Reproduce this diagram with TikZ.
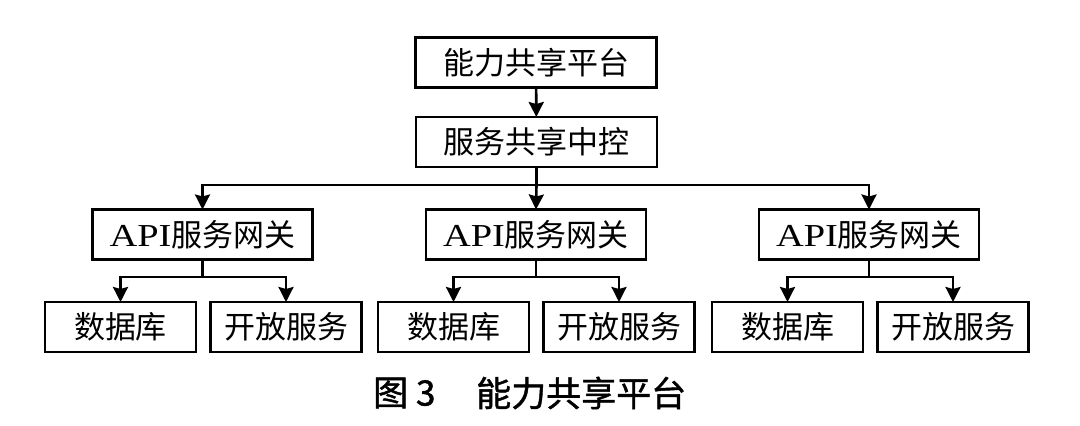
\documentclass[tikz,border=0pt]{standalone}
\usepackage{fontspec}
\setmainfont{Liberation Serif}
\newfontfamily\cjk{Noto Sans CJK SC}
\newfontfamily\cjkcap{Noto Sans CJK SC}[FakeBold=1.2]
\usetikzlibrary{arrows.meta}
\begin{document}
\begin{tikzpicture}[x=1pt,y=-1pt,
  box/.style={draw, line width=2.6pt, minimum height=50pt, inner sep=0pt, outer sep=0pt,
    font=\fontsize{31}{31}\selectfont\cjk},
  wbig/.style={minimum width=241pt},
  wapi/.style={minimum width=220pt},
  wsm/.style={minimum width=151pt},
  conn/.style={line width=2.6pt},
  arr/.style={line width=2.6pt, -{Stealth[length=15pt,width=15pt,inset=2pt]}},
  captext/.style={inner sep=0pt, anchor=west, font=\fontsize{35}{35}\selectfont\cjkcap}
]
\useasboundingbox (0,0) rectangle (1080,426);
\fill[white] (0,0) rectangle (1080,426);
\newcommand{\apitext}{{\rmfamily\fontsize{32}{32}\selectfont\scalebox{1.2}[1]{API}}服务网关}

\node[box,wbig] (top) at (536,62.5) {能力共享平台};
\node[box,wbig] (ctrl) at (536.5,142) {服务共享中控};

\node[box,wapi] (api1) at (202.5,234.5) {\apitext};
\node[box,wapi] (api2) at (536,234.5) {\apitext};
\node[box,wapi] (api3) at (869,234.5) {\apitext};

\node[box,wsm] (db1) at (120.5,327) {数据库};
\node[box,wsm] (os1) at (286,327) {开放服务};
\node[box,wsm] (db2) at (453.5,327) {数据库};
\node[box,wsm] (os2) at (619,327) {开放服务};
\node[box,wsm] (db3) at (787.5,327) {数据库};
\node[box,wsm] (os3) at (953,327) {开放服务};

\draw[arr] (top) -- (ctrl);

\coordinate (bus) at (536.5,185);
\draw[conn] (ctrl.south) -- (bus);
\draw[arr] (bus) -| (api1.north);
\draw[arr] (bus) -- (api2.north);
\draw[arr] (bus) -| (api3.north);

\coordinate (s1) at (202.5,277);
\coordinate (s2) at (536,277);
\coordinate (s3) at (869,277);
\draw[conn] (api1.south) -- (s1);
\draw[arr] (s1) -| (db1.north);
\draw[arr] (s1) -| (os1.north);
\draw[conn] (api2.south) -- (s2);
\draw[arr] (s2) -| (db2.north);
\draw[arr] (s2) -| (os2.north);
\draw[conn] (api3.south) -- (s3);
\draw[arr] (s3) -| (db3.north);
\draw[arr] (s3) -| (os3.north);

\node[captext] (fig) at (373,393) {图 3};
\node[captext] (title) at (476,393) {能力共享平台};
\end{tikzpicture}
\end{document}
